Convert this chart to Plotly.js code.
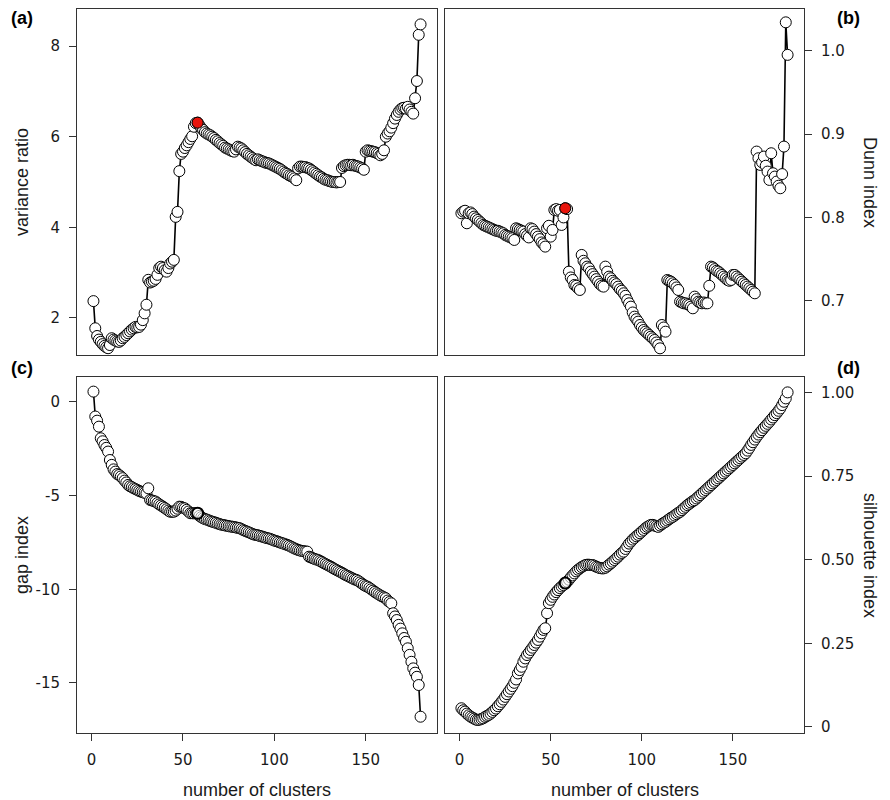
<!DOCTYPE html>
<html>
<head>
<meta charset="utf-8">
<script src="https://cdn.plot.ly/plotly-3.0.1.min.js"></script>
<style>html,body{margin:0;padding:0;background:#fff;}</style>
</head>
<body>
<div id="chart" style="width:890px;height:800px;"></div>
<script>
// ---- data ----
const varianceRatio = [
 2.37,1.77,1.60,1.52,1.47,1.42,1.38,1.35,1.33,1.40,
 1.55,1.52,1.50,1.48,1.47,1.50,1.55,1.58,1.62,1.66,
 1.70,1.74,1.77,1.80,1.79,1.80,1.85,1.95,2.10,2.29,
 2.84,2.78,2.80,2.82,2.86,2.95,3.10,3.13,3.10,3.05,
 3.02,3.10,3.20,3.24,3.28,4.23,4.34,5.24,5.62,5.67,
 5.75,5.81,5.88,5.95,6.01,6.22,6.30,6.31,6.25,6.19,
 6.15,6.10,6.07,6.05,6.03,6.00,5.97,5.93,5.90,5.86,
 5.83,5.80,5.76,5.74,5.72,5.70,5.68,5.67,5.72,5.78,
 5.76,5.74,5.70,5.66,5.62,5.59,5.56,5.53,5.50,5.48,
 5.50,5.48,5.46,5.45,5.43,5.42,5.41,5.39,5.37,5.35,
 5.33,5.31,5.29,5.26,5.23,5.20,5.18,5.15,5.13,5.11,
 5.08,5.04,5.30,5.34,5.34,5.33,5.33,5.31,5.30,5.27,
 5.24,5.21,5.18,5.15,5.12,5.10,5.07,5.05,5.04,5.02,
 5.01,5.00,5.00,4.99,5.00,5.00,5.31,5.35,5.37,5.38,
 5.38,5.37,5.38,5.36,5.35,5.34,5.32,5.30,5.27,5.67,
 5.70,5.69,5.68,5.67,5.66,5.64,5.62,5.59,5.62,5.70,
 6.00,6.07,6.12,6.20,6.30,6.40,6.48,6.55,6.60,6.63,
 6.64,6.62,6.66,6.60,6.55,6.51,6.85,7.23,8.25,8.48
];
const dunnIndex = [
 0.805,0.807,0.808,0.793,0.805,0.806,0.804,0.801,0.799,0.797,
 0.795,0.793,0.791,0.790,0.789,0.788,0.787,0.786,0.785,0.784,
 0.784,0.783,0.782,0.781,0.779,0.778,0.777,0.776,0.775,0.773,
 0.787,0.786,0.785,0.784,0.783,0.780,0.778,0.776,0.787,0.786,
 0.783,0.780,0.777,0.774,0.770,0.768,0.765,0.787,0.790,0.777,
 0.785,0.809,0.810,0.808,0.809,0.791,0.800,0.811,0.810,0.735,
 0.728,0.725,0.719,0.718,0.715,0.713,0.755,0.748,0.745,0.741,
 0.739,0.735,0.732,0.729,0.726,0.723,0.720,0.718,0.717,0.741,
 0.735,0.729,0.727,0.724,0.722,0.720,0.717,0.714,0.712,0.709,
 0.706,0.701,0.697,0.693,0.686,0.681,0.678,0.675,0.671,0.668,
 0.665,0.663,0.661,0.659,0.657,0.655,0.653,0.650,0.647,0.643,
 0.671,0.668,0.663,0.725,0.724,0.723,0.721,0.719,0.716,0.713,
 0.699,0.698,0.697,0.697,0.696,0.695,0.693,0.691,0.705,0.702,
 0.699,0.698,0.697,0.698,0.697,0.697,0.718,0.741,0.740,0.738,
 0.736,0.735,0.733,0.731,0.729,0.727,0.725,0.724,0.725,0.731,
 0.731,0.729,0.727,0.725,0.723,0.721,0.719,0.717,0.715,0.713,
 0.711,0.709,0.879,0.871,0.863,0.866,0.873,0.862,0.855,0.845,
 0.877,0.853,0.849,0.843,0.838,0.835,0.852,0.885,1.034,0.995
];
const gapIndex = [
 0.55,-0.78,-1.00,-1.32,-1.94,-2.10,-2.30,-2.45,-2.65,-3.10,
 -3.36,-3.60,-3.72,-3.85,-3.90,-3.98,-4.07,-4.20,-4.30,-4.43,
 -4.50,-4.55,-4.61,-4.65,-4.70,-4.75,-4.79,-4.82,-4.85,-4.88,
 -4.61,-5.23,-5.26,-5.29,-5.32,-5.40,-5.47,-5.53,-5.59,-5.66,
 -5.73,-5.80,-5.86,-5.86,-5.86,-5.80,-5.70,-5.59,-5.60,-5.65,
 -5.68,-5.76,-5.85,-5.94,-5.94,-5.95,-5.94,-5.94,-6.08,-6.15,
 -6.21,-6.25,-6.28,-6.32,-6.36,-6.39,-6.42,-6.45,-6.49,-6.52,
 -6.55,-6.57,-6.59,-6.61,-6.63,-6.65,-6.66,-6.68,-6.70,-6.72,
 -6.74,-6.79,-6.84,-6.88,-6.92,-6.96,-7.00,-7.05,-7.08,-7.10,
 -7.12,-7.15,-7.18,-7.21,-7.24,-7.27,-7.29,-7.32,-7.36,-7.40,
 -7.43,-7.46,-7.50,-7.53,-7.56,-7.60,-7.63,-7.67,-7.72,-7.77,
 -7.82,-7.86,-7.90,-7.93,-7.95,-7.97,-7.98,-7.99,-8.26,-8.30,
 -8.34,-8.38,-8.41,-8.44,-8.49,-8.54,-8.60,-8.65,-8.70,-8.75,
 -8.80,-8.86,-8.92,-8.97,-9.02,-9.07,-9.12,-9.18,-9.24,-9.28,
 -9.33,-9.38,-9.43,-9.48,-9.50,-9.56,-9.63,-9.70,-9.77,-9.83,
 -9.86,-9.93,-10.00,-10.07,-10.14,-10.21,-10.27,-10.33,-10.38,-10.43,
 -10.48,-10.60,-10.68,-10.75,-11.28,-11.45,-11.64,-11.90,-12.10,-12.35,
 -12.60,-12.80,-13.15,-13.50,-13.87,-14.22,-14.45,-14.67,-15.11,-16.80
];
const silhouetteIndex = [
 0.056,0.050,0.046,0.040,0.035,0.031,0.028,0.025,0.022,0.021,
 0.022,0.024,0.026,0.030,0.033,0.036,0.040,0.045,0.050,0.055,
 0.062,0.068,0.075,0.082,0.090,0.098,0.106,0.114,0.122,0.132,
 0.142,0.160,0.170,0.180,0.195,0.205,0.215,0.222,0.230,0.237,
 0.245,0.252,0.260,0.270,0.280,0.290,0.295,0.340,0.370,0.380,
 0.389,0.396,0.403,0.409,0.415,0.420,0.424,0.430,0.434,0.440,
 0.447,0.453,0.459,0.465,0.470,0.474,0.478,0.481,0.484,0.485,
 0.485,0.484,0.484,0.482,0.479,0.477,0.475,0.474,0.474,0.476,
 0.480,0.485,0.489,0.494,0.499,0.504,0.509,0.515,0.520,0.524,
 0.532,0.540,0.548,0.554,0.560,0.565,0.570,0.574,0.579,0.584,
 0.589,0.594,0.598,0.601,0.604,0.604,0.602,0.600,0.598,0.602,
 0.606,0.610,0.613,0.617,0.621,0.625,0.628,0.632,0.636,0.640,
 0.643,0.648,0.653,0.658,0.663,0.667,0.671,0.675,0.678,0.683,
 0.688,0.693,0.698,0.703,0.708,0.713,0.718,0.723,0.728,0.733,
 0.738,0.743,0.748,0.753,0.758,0.763,0.768,0.773,0.778,0.783,
 0.788,0.793,0.798,0.803,0.808,0.813,0.818,0.826,0.834,0.843,
 0.851,0.859,0.867,0.874,0.881,0.887,0.894,0.900,0.906,0.912,
 0.919,0.925,0.932,0.938,0.945,0.952,0.962,0.972,0.982,1.000
];
const optimalClusters = 58;
const xTickVals = [0, 50, 100, 150];
const xTickText = ['0', '50', '100', '150'];
const clusters = varianceRatio.map((_, i) => i + 1);

// ---- styling ----
const tickFont = {family: 'DejaVu Sans, Verdana, sans-serif', size: 15, color: '#1a1a1a'};
const titleFont = {family: 'Liberation Sans Narrow, Liberation Sans, Arial, sans-serif', size: 18, color: '#1a1a1a'};
const labelFont = {family: 'Liberation Sans, Arial, sans-serif', size: 18, color: '#000'};

function makeTrace(y, xa, ya) {
  return {
    x: clusters, y: y, xaxis: xa, yaxis: ya,
    type: 'scatter', mode: 'lines+markers',
    line: {color: '#000', width: 1.6},
    marker: {size: 11, color: '#ffffff', line: {color: '#000', width: 1}},
    hoverinfo: 'x+y', showlegend: false
  };
}
// the chosen number of clusters, drawn on top of its series
function makeHighlight(y, xa, ya, mode) {
  const idx = clusters.indexOf(optimalClusters);
  return {
    x: [clusters[idx]], y: [y[idx]], xaxis: xa, yaxis: ya,
    type: 'scatter', mode: 'markers',
    marker: {size: 11, color: mode === 'red' ? '#e8140c' : 'rgba(255,255,255,0.6)',
             line: {color: '#000', width: mode === 'red' ? 1 : 2}},
    hoverinfo: 'x+y', showlegend: false
  };
}

const data = [
  makeTrace(varianceRatio, 'x', 'y'),
  makeTrace(dunnIndex, 'x2', 'y2'),
  makeTrace(gapIndex, 'x3', 'y3'),
  makeTrace(silhouetteIndex, 'x4', 'y4'),
  makeHighlight(varianceRatio, 'x', 'y', 'red'),
  makeHighlight(dunnIndex, 'x2', 'y2', 'red'),
  makeHighlight(gapIndex, 'x3', 'y3', 'bold'),
  makeHighlight(silhouetteIndex, 'x4', 'y4', 'bold')
];

const W = 890, H = 800;
const colL = [77 / W, 437 / W], colR = [445 / W, 804 / W];
const rowT = [1 - 355 / H, 1 - 9 / H], rowB = [1 - 733 / H, 1 - 377 / H];
const xRange = [-8, 189];

function xAxis(domain, anchor, showTicks) {
  return {
    domain: domain, anchor: anchor, range: xRange,
    showgrid: false, zeroline: false,
    showline: true, mirror: true, linecolor: '#333', linewidth: 1,
    ticks: showTicks ? 'outside' : '', ticklen: 7, tickcolor: '#333', tickwidth: 1,
    showticklabels: showTicks, tickvals: xTickVals, ticktext: xTickText,
    tickfont: tickFont, ticklabelstandoff: 6
  };
}
function yAxis(domain, anchor, range, vals, text, side) {
  return {
    domain: domain, anchor: anchor, range: range, side: side,
    showgrid: false, zeroline: false,
    showline: true, mirror: true, linecolor: '#333', linewidth: 1,
    ticks: 'outside', ticklen: 7, tickcolor: '#333', tickwidth: 1,
    tickvals: vals, ticktext: text, tickfont: tickFont, ticklabelstandoff: 6
  };
}

const annotations = [
  {text: 'variance ratio', x: 22 / W, y: (rowT[0] + rowT[1]) / 2, textangle: -90},
  {text: 'gap index', x: 22 / W, y: (rowB[0] + rowB[1]) / 2, textangle: -90},
  {text: 'Dunn index', x: 870 / W, y: (rowT[0] + rowT[1]) / 2, textangle: 90},
  {text: 'silhouette index', x: 870 / W, y: (rowB[0] + rowB[1]) / 2, textangle: 90},
  {text: 'number of clusters', x: (colL[0] + colL[1]) / 2, y: 1 - 790 / H, textangle: 0},
  {text: 'number of clusters', x: (colR[0] + colR[1]) / 2, y: 1 - 790 / H, textangle: 0}
].map(a => Object.assign({xref: 'paper', yref: 'paper', showarrow: false,
  xanchor: 'center', yanchor: 'middle', font: titleFont}, a));

[['(a)', 22, 18], ['(b)', 848, 18], ['(c)', 22, 368], ['(d)', 848, 368]].forEach(p => {
  annotations.push({text: '<b>' + p[0] + '</b>', x: p[1] / W, y: 1 - p[2] / H,
    xref: 'paper', yref: 'paper', showarrow: false, xanchor: 'center', yanchor: 'middle', font: labelFont});
});

const layout = {
  width: W, height: H,
  margin: {l: 0, r: 0, t: 0, b: 0},
  paper_bgcolor: '#fff', plot_bgcolor: '#fff',
  xaxis: xAxis(colL, 'y', false),
  xaxis2: xAxis(colR, 'y2', false),
  xaxis3: xAxis(colL, 'y3', true),
  xaxis4: xAxis(colR, 'y4', true),
  yaxis: yAxis(rowT, 'x', [1.18, 8.82], [2, 4, 6, 8], ['2', '4', '6', '8'], 'left'),
  yaxis2: yAxis(rowT, 'x2', [0.635, 1.05], [0.7, 0.8, 0.9, 1.0], ['0.7', '0.8', '0.9', '1.0'], 'right'),
  yaxis3: yAxis(rowB, 'x3', [-17.67, 1.33], [-15, -10, -5, 0], ['-15', '-10', '-5', '0'], 'left'),
  yaxis4: yAxis(rowB, 'x4', [-0.018, 1.046], [0, 0.25, 0.5, 0.75, 1], ['0', '0.25', '0.50', '0.75', '1.00'], 'right'),
  annotations: annotations
};

Plotly.newPlot('chart', data, layout, {displayModeBar: false, staticPlot: true});
</script>
</body>
</html>
